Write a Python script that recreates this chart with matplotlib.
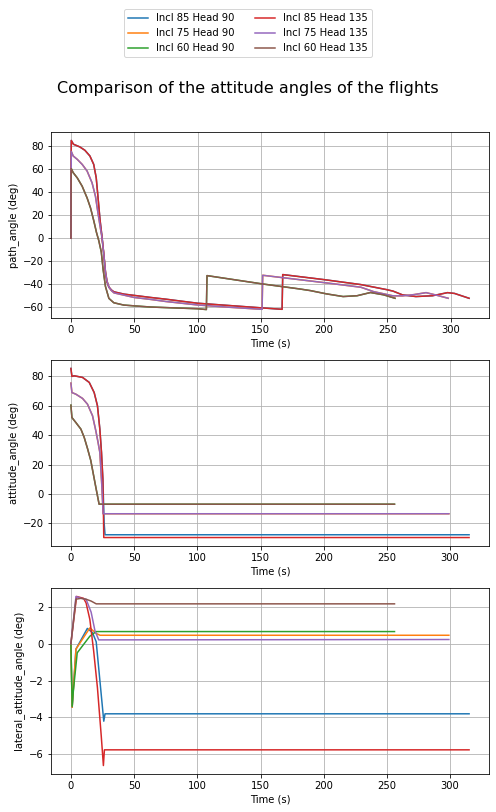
import matplotlib
matplotlib.use("Agg")
import matplotlib.pyplot as plt

labels = ["Incl 85 Head 90", "Incl 75 Head 90", "Incl 60 Head 90",
          "Incl 85 Head 135", "Incl 75 Head 135", "Incl 60 Head 135"]

# ---- path angle ----
t_path_85 = [0, 0.3, 2, 7, 11, 15, 18, 20, 21.7, 23, 24.5, 26, 27.3, 28.5, 30, 32, 34, 42,
             50, 63, 75, 100, 125, 150, 166.8, 167.3, 200, 229, 249, 254.5, 262, 272.5,
             285.6, 297.5, 303, 314.5]
path_85 = [0, 85, 81.7, 79.4, 76.5, 71.5, 64.2, 52.5, 32, 16, 2, -14, -30, -38, -42.5, -45,
           -46.6, -48.6, -49.7, -51.5, -53, -56.5, -58.5, -60.5, -61.8, -31.6, -36, -40.3,
           -44.6, -46, -49.3, -50.7, -50, -47.3, -48, -52.2]
t_path_75 = [0, 0.3, 1.8, 5, 8.9, 12.8, 16.7, 19.4, 21.2, 23.3, 24.5, 26, 27.3, 28.5, 30,
             32, 34, 42, 50, 63, 75, 100, 125, 151, 151.5, 200, 229, 239, 254.5, 262, 271,
             280.5, 288, 298]
path_75 = [0, 75.5, 71.5, 68.6, 64.2, 58.4, 48.2, 36.4, 23.3, 8.7, 1, -14, -29, -37, -42.5,
           -45.5, -47.5, -49.5, -51.5, -53.2, -55, -58, -60, -61.8, -32.2, -38.6, -42.6,
           -46.4, -50.1, -50.1, -49, -47.3, -49.3, -52.2]
t_path_60 = [0, 0.3, 1.8, 5, 8.9, 12.8, 15.5, 18.1, 20.2, 22, 24, 25.5, 27.3, 30, 33.9,
             41.7, 50, 62.8, 75, 100, 107, 107.5, 151, 180, 189, 202, 215, 226, 236.6, 247,
             256]
path_60 = [0, 60.5, 57, 52.5, 45.2, 35, 26.3, 15, 5, -2, -12, -27.6, -42, -52.3, -56.1,
           -58.1, -58.8, -59.8, -60.3, -61.3, -62, -32.5, -39.7, -44, -45.5, -48.4, -50.7,
           -50, -47.2, -49.2, -52.2]

# ---- attitude angle ----
t_att_85_h90 = [0, 0.8, 2.6, 9.2, 14.5, 18.4, 21, 22.9, 24.2, 25.3, 26.3, 27, 315]
att_85_h90 = [85.4, 80, 80.4, 79.3, 75.9, 69, 60, 44, 28.2, 10, -20, -27.8, -27.8]
t_att_85_h135 = [0, 0.8, 2.6, 9.2, 14.5, 18.4, 21, 22.9, 24.2, 25.3, 26, 315]
att_85_h135 = [85.4, 80, 80.4, 79.3, 75.9, 69, 60, 44, 28.2, 10, -29.7, -29.7]
t_att_75 = [0, 0.8, 3.9, 9.2, 13.1, 17.1, 19.7, 21.5, 22.9, 24.3, 25.5, 299]
att_75 = [75.4, 69, 67.9, 65, 61.1, 53.2, 43, 35, 28.2, 8, -13.5, -13.5]
t_att_60 = [0, 0.8, 3.9, 7.9, 10.5, 13.1, 15.7, 19.7, 22.3, 256]
att_60 = [60.4, 52, 48.6, 44.1, 38.5, 31, 22.8, 4.6, -7, -7]

# ---- lateral attitude angle ----
t_lat_85_h90 = [0, 1, 4, 13, 17, 20, 26, 27, 315]
lat_85_h90 = [0, -3.45, -0.3, 0.82, 0.6, 0.1, -4.2, -3.8, -3.8]
t_lat_75_h90 = [0, 1, 4, 15, 20, 23, 299]
lat_75_h90 = [0, -3.45, -0.3, 0.85, 0.55, 0.45, 0.45]
t_lat_60_h90 = [0, 1, 2, 5, 15, 20, 256]
lat_60_h90 = [0, -3.4, -2.5, -0.5, 0.4, 0.65, 0.65]
t_lat_85_h135 = [0, 4.5, 10, 12, 15, 18, 21, 24, 25.7, 26.5, 315]
lat_85_h135 = [0, 2.55, 2.45, 2.2, 1.3, -0.4, -2.4, -5.0, -6.6, -5.75, -5.75]
t_lat_75_h135 = [0, 4, 8, 12, 16, 19, 22, 299]
lat_75_h135 = [0, 2.55, 2.45, 2.4, 1.7, 0.7, 0.2, 0.22]
t_lat_60_h135 = [0, 4, 8, 12, 16, 20, 256]
lat_60_h135 = [0, 2.4, 2.45, 2.4, 2.3, 2.15, 2.15]

colors = ["C0", "C1", "C2", "C3", "C4", "C5"]

path_series = [(t_path_85, path_85), (t_path_75, path_75), (t_path_60, path_60),
               (t_path_85, path_85), (t_path_75, path_75), (t_path_60, path_60)]
att_series = [(t_att_85_h90, att_85_h90), (t_att_75, att_75), (t_att_60, att_60),
              (t_att_85_h135, att_85_h135), (t_att_75, att_75), (t_att_60, att_60)]
lat_series = [(t_lat_85_h90, lat_85_h90), (t_lat_75_h90, lat_75_h90), (t_lat_60_h90, lat_60_h90),
              (t_lat_85_h135, lat_85_h135), (t_lat_75_h135, lat_75_h135), (t_lat_60_h135, lat_60_h135)]

dpi = 72
fig = plt.figure(figsize=(496 / dpi, 812 / dpi), dpi=dpi)
left, width, height = 51 / 496, 438 / 496, 186 / 812
bottoms = [1 - 318 / 812, 1 - 546 / 812, 1 - 774 / 812]
ylabels = ["path_angle (deg)", "attitude_angle (deg)", "lateral_attitude_angle (deg)"]
all_series = [path_series, att_series, lat_series]

handles = []
for k, (b, yl, series) in enumerate(zip(bottoms, ylabels, all_series)):
    ax = fig.add_axes([left, b, width, height])
    for i, (t, v) in enumerate(series):
        ln, = ax.plot(t, v, color=colors[i], lw=1.5, label=labels[i])
        if k == 0:
            handles.append(ln)
    ax.grid(True)
    ax.set_xlabel("Time (s)")
    ax.set_ylabel(yl)

fig.legend(handles=handles, labels=labels, loc="upper center", ncol=2,
           bbox_to_anchor=(0.5, 1 - 4 / 812))
fig.text(0.5, 1 - 88 / 812, "Comparison of the attitude angles of the flights",
         ha="center", va="center", fontsize=16)

fig.savefig("out.png", dpi=dpi)
